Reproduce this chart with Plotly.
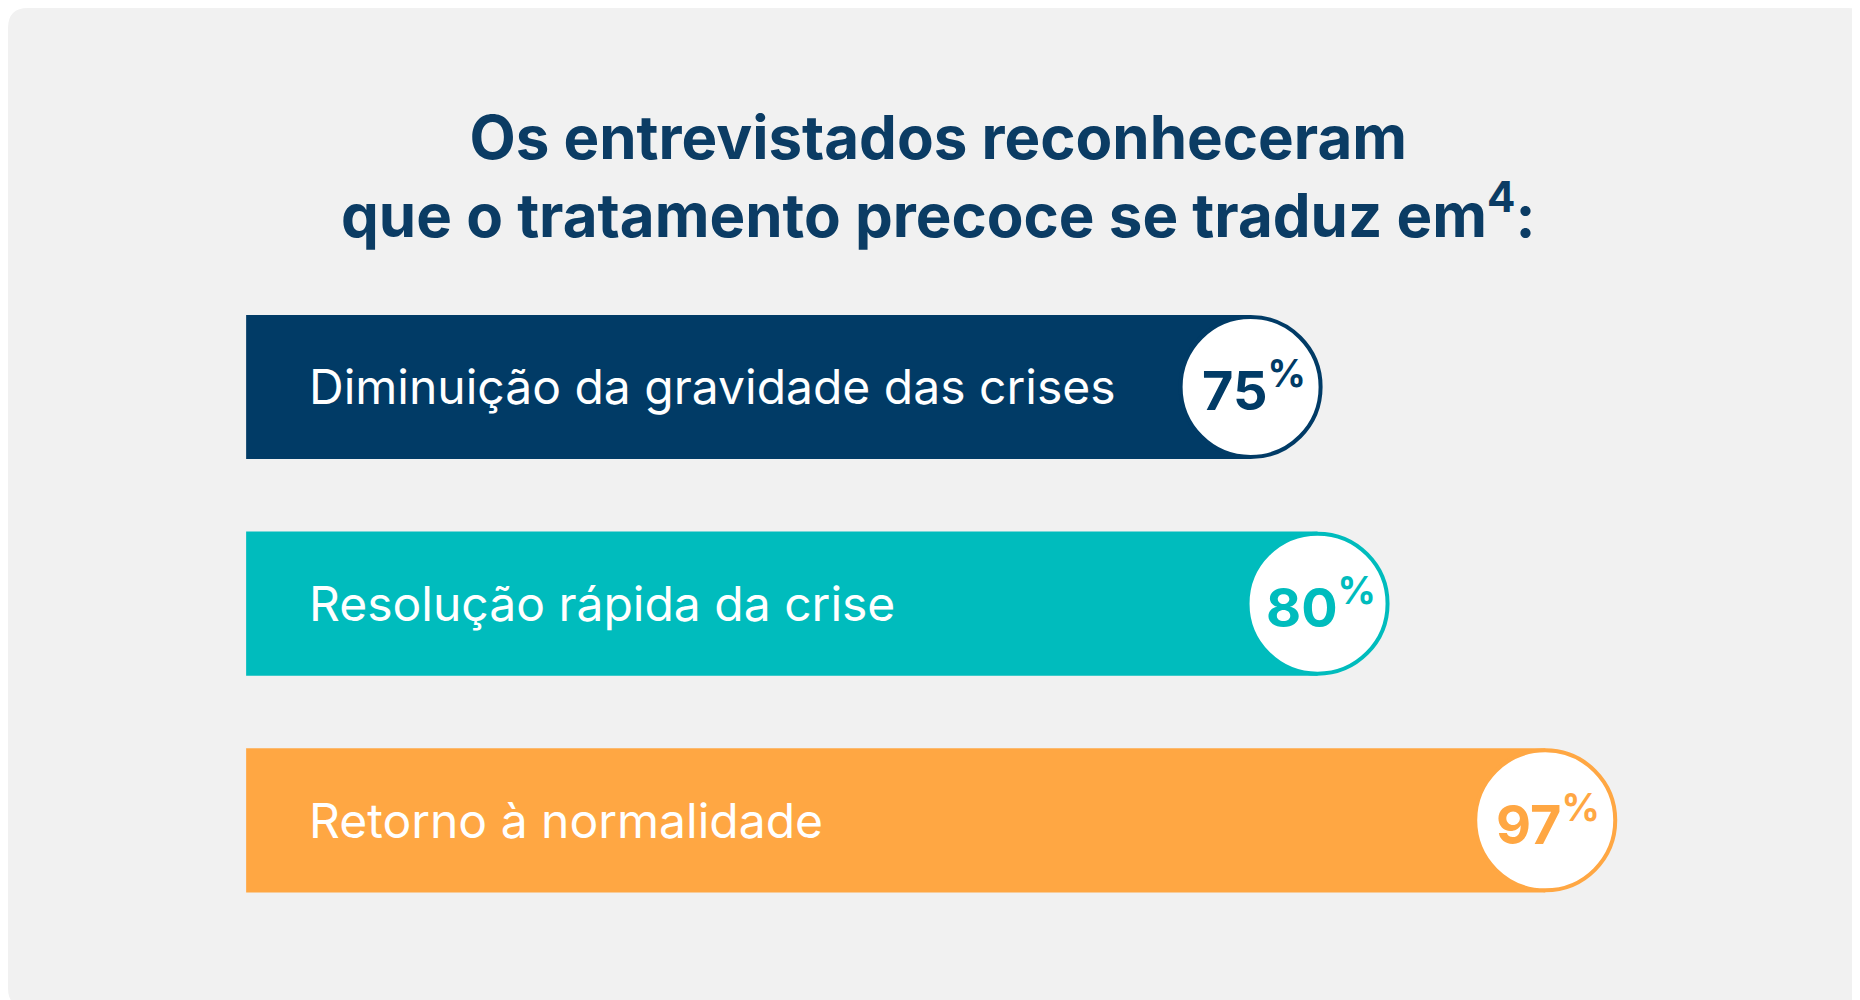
import plotly.graph_objects as go

categories = ["Diminuição da gravidade das crises", "Resolução rápida da crise", "Retorno à normalidade"]
values = [75, 80, 97]
colors = ["#013b66", "#00bcbd", "#ffa743"]
title_lines = ["Os entrevistados reconheceram", "que o tratamento precoce se traduz em<sup>4</sup>:"]

idx = list(range(len(categories)))
navy = "#0b3c64"

fig = go.Figure()
fig.add_trace(go.Bar(
    x=values, y=idx, orientation="h", base=0, width=0.665,
    marker=dict(color=colors, line=dict(width=0)), hoverinfo="skip",
))

for i, (cat, v, c) in enumerate(zip(categories, values, colors)):
    fig.add_annotation(x=0, y=i, text=cat, xanchor="left", xshift=61, showarrow=False,
                       font=dict(family="Inter", size=48, color="white"))
    fig.add_shape(type="circle", xref="x", yref="y", xsizemode="pixel", ysizemode="pixel",
                  xanchor=v, yanchor=i, x0=-70, x1=70, y0=-70, y1=70,
                  fillcolor="white", line=dict(color=c, width=4), layer="above")
    fig.add_annotation(x=v, y=i, text=f"<b>{v}</b><sup><b>%</b></sup>", showarrow=False,
                       xshift=3, font=dict(family="Inter", size=54, color=c, weight=900))

# rounded gray card
r = 0.02
fig.add_shape(type="path", xref="paper", yref="paper", layer="below", line=dict(width=0),
              fillcolor="#f1f1f1",
              path=f"M {r*0.54},0 L {1-r*0.54},0 Q 1,0 1,{r} L 1,{1-r} Q 1,1 {1-r*0.54},1 "
                   f"L {r*0.54},1 Q 0,1 0,{1-r} L 0,{r} Q 0,0 {r*0.54},0 Z")

fig.add_annotation(xref="paper", yref="paper", x=0.5, y=1 - 168 / 1000, yanchor="middle",
                   text="<br>".join(title_lines), showarrow=False,
                   font=dict(family="Inter", size=60, color=navy, weight=700))

fig.update_layout(
    width=1860, height=1000, margin=dict(l=0, r=0, t=0, b=0),
    paper_bgcolor="white", plot_bgcolor="rgba(0,0,0,0)", showlegend=False,
    xaxis=dict(range=[-17.78, 121.1], visible=False, fixedrange=True),
    yaxis=dict(range=[2.866, -1.749], visible=False, fixedrange=True),
)

fig.write_html("out.html")
